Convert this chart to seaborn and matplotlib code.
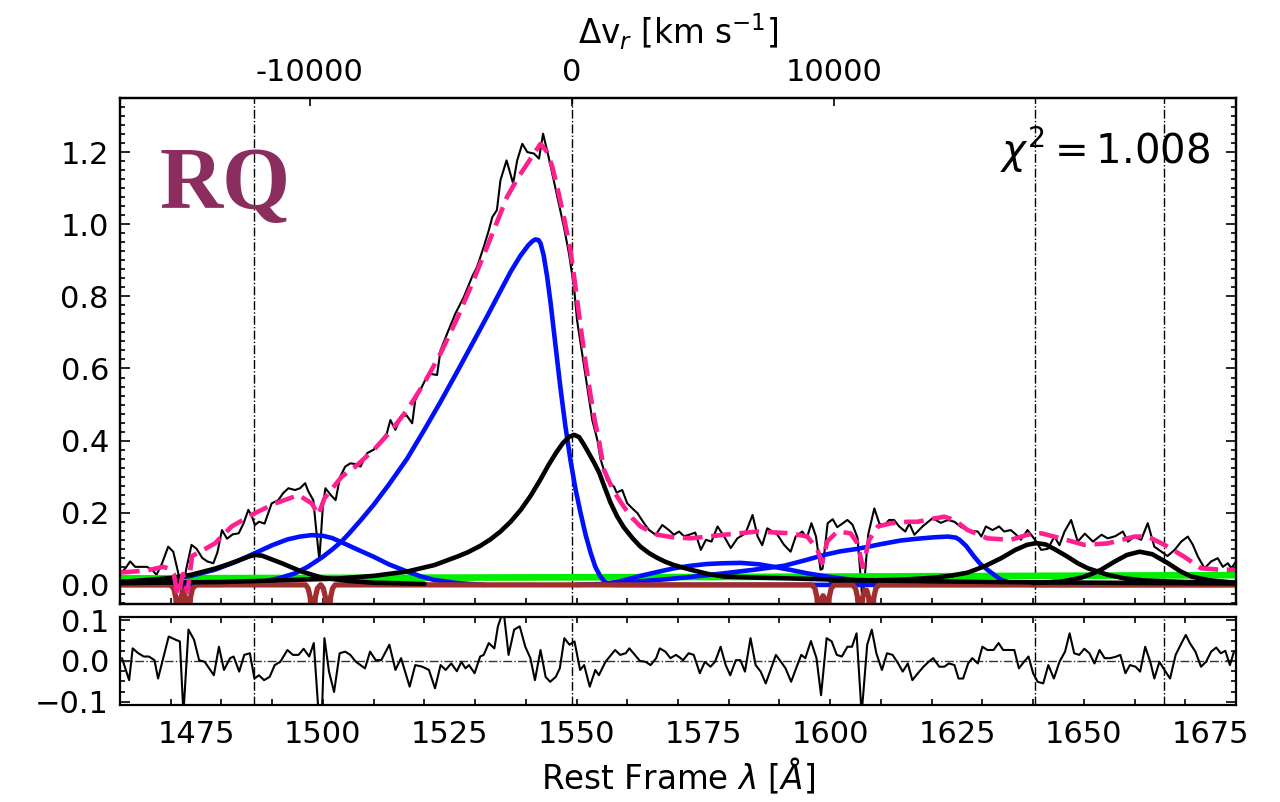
import numpy as np
import pandas as pd
import matplotlib
matplotlib.use("Agg")
import matplotlib.pyplot as plt
import seaborn as sns
from matplotlib.ticker import MultipleLocator, FixedLocator, FixedFormatter, FormatStrFormatter

sns.set_style("ticks")
plt.rcParams['font.family'] = ['DejaVu Sans']
plt.rcParams['mathtext.fontset'] = 'dejavusans'
plt.rcParams.update({'text.color': 'black', 'axes.labelcolor': 'black',
                     'xtick.color': 'black', 'ytick.color': 'black',
                     'axes.edgecolor': 'black'})

# ---------------- data ----------------
obs_wl = [1460.0, 1461.0, 1462.0, 1463.0, 1464.0, 1465.3, 1466.3, 1467.2, 1468.3, 1469.5,
          1470.5, 1471.5, 1472.2, 1473.0, 1474.1, 1475.1, 1476.2, 1477.2, 1478.4, 1479.2,
          1480.1, 1481.1, 1482.2, 1483.4, 1484.4, 1485.3, 1486.0, 1486.6, 1487.4, 1488.5,
          1489.9, 1491.2, 1492.2, 1493.2, 1494.5, 1495.5, 1496.5, 1497.1, 1498.1, 1498.7,
          1499.3, 1500.0, 1500.5, 1501.5, 1502.5, 1503.4, 1504.4, 1505.4, 1506.4, 1507.4,
          1508.7, 1510.0, 1511.3, 1512.6, 1513.3, 1514.3, 1515.3, 1516.5, 1517.6, 1518.2,
          1519.5, 1520.8, 1522.5, 1523.2, 1524.5, 1526.1, 1527.8, 1529.4, 1530.4, 1531.7,
          1532.7, 1533.4, 1534.3, 1535.0, 1536.2, 1537.5, 1538.3, 1539.3, 1540.3, 1541.6,
          1542.6, 1543.4, 1544.5, 1545.5, 1546.5, 1547.5, 1548.5, 1549.5, 1550.1, 1551.1,
          1552.1, 1553.1, 1554.1, 1554.7, 1556.0, 1557.4, 1557.9, 1559.0, 1560.0, 1561.0,
          1562.0, 1563.3, 1564.3, 1565.6, 1566.9, 1568.2, 1569.2, 1570.2, 1571.2, 1572.2,
          1573.4, 1574.5, 1575.5, 1576.6, 1577.8, 1579.1, 1580.4, 1581.7, 1583.3, 1584.7,
          1585.7, 1586.6, 1587.6, 1589.6, 1590.9, 1592.2, 1593.2, 1594.5, 1595.4, 1596.3,
          1597.2, 1598.1, 1598.5, 1599.5, 1600.5, 1601.4, 1602.4, 1603.4, 1604.4, 1605.4,
          1606.4, 1607.5, 1608.7, 1609.7, 1610.7, 1611.6, 1612.6, 1613.6, 1614.8, 1615.6,
          1616.6, 1618.2, 1620.2, 1621.8, 1623.2, 1624.5, 1625.8, 1627.6, 1629.1, 1629.8,
          1630.7, 1632.0, 1633.3, 1634.3, 1635.6, 1636.6, 1637.6, 1638.9, 1639.9, 1640.6,
          1641.6, 1642.9, 1644.2, 1645.2, 1646.2, 1647.5, 1648.8, 1650.2, 1651.8, 1653.5,
          1654.7, 1656.2, 1657.7, 1658.7, 1660.0, 1661.3, 1662.6, 1663.9, 1665.3, 1666.5,
          1667.9, 1669.2, 1670.5, 1671.5, 1672.5, 1673.8, 1675.1, 1676.4, 1677.4, 1678.4,
          1679.1, 1680.0]
obs_flux = [0.030, 0.045, 0.065, 0.050, 0.050, 0.050, 0.042, 0.028, 0.060, 0.106,
            0.092, 0.032, -0.040, 0.040, 0.111, 0.100, 0.075, 0.065, 0.060, 0.090,
            0.152, 0.128, 0.140, 0.143, 0.172, 0.208, 0.190, 0.166, 0.175, 0.170,
            0.226, 0.235, 0.255, 0.268, 0.263, 0.268, 0.282, 0.260, 0.235, 0.150,
            0.069, 0.220, 0.268, 0.250, 0.235, 0.300, 0.328, 0.337, 0.335, 0.328,
            0.365, 0.375, 0.397, 0.420, 0.457, 0.430, 0.466, 0.470, 0.448, 0.512,
            0.549, 0.586, 0.582, 0.651, 0.697, 0.752, 0.799, 0.854, 0.882, 0.937,
            0.983, 1.020, 1.039, 1.122, 1.177, 1.113, 1.177, 1.223, 1.200, 1.196,
            1.182, 1.251, 1.186, 1.122, 1.057, 0.993, 0.919, 0.826, 0.734, 0.642,
            0.549, 0.457, 0.402, 0.350, 0.291, 0.272, 0.256, 0.263, 0.226, 0.212,
            0.199, 0.171, 0.152, 0.139, 0.166, 0.152, 0.139, 0.148, 0.135, 0.139,
            0.145, 0.097, 0.125, 0.120, 0.162, 0.134, 0.102, 0.129, 0.143, 0.194,
            0.134, 0.110, 0.157, 0.139, 0.111, 0.092, 0.134, 0.148, 0.130, 0.171,
            0.134, 0.042, 0.045, 0.171, 0.182, 0.160, 0.170, 0.180, 0.167, 0.130,
            -0.050, 0.140, 0.212, 0.170, 0.165, 0.180, 0.180, 0.162, 0.148, 0.170,
            0.139, 0.162, 0.185, 0.172, 0.180, 0.175, 0.160, 0.150, 0.148, 0.134,
            0.162, 0.152, 0.162, 0.148, 0.152, 0.140, 0.125, 0.152, 0.134, 0.120,
            0.097, 0.100, 0.134, 0.110, 0.148, 0.180, 0.120, 0.142, 0.120, 0.139,
            0.129, 0.135, 0.148, 0.120, 0.134, 0.125, 0.171, 0.106, 0.092, 0.080,
            0.097, 0.120, 0.134, 0.111, 0.078, 0.046, 0.065, 0.074, 0.050, 0.060,
            0.046, 0.065]

model_wl = [1460.0, 1465.3, 1468.5, 1469.8, 1470.6, 1471.4, 1472.4, 1473.3, 1474.2, 1475.8,
            1478.7, 1482.0, 1486.6, 1490.6, 1495.2, 1497.8, 1499.1, 1500.3, 1501.1, 1503.7,
            1506.4, 1510.0, 1513.3, 1516.6, 1520.0, 1523.2, 1526.5, 1529.7, 1533.0, 1536.3,
            1538.5, 1540.3, 1541.8, 1542.9, 1544.2, 1545.2, 1546.2, 1547.5, 1548.8, 1549.8,
            1550.8, 1551.8, 1552.8, 1553.6, 1554.4, 1555.4, 1557.3, 1559.3, 1561.0, 1562.6,
            1565.9, 1569.0, 1572.5, 1579.1, 1585.7, 1592.2, 1595.5, 1597.5, 1598.4, 1599.4,
            1601.4, 1604.0, 1605.4, 1606.4, 1607.7, 1609.4, 1612.0, 1615.3, 1617.2, 1620.0,
            1622.5, 1624.5, 1627.1, 1631.0, 1635.6, 1638.9, 1641.6, 1645.5, 1650.1, 1654.7,
            1660.0, 1662.6, 1665.9, 1669.8, 1673.1, 1677.1, 1680.0]
model_flux = [0.034, 0.040, 0.050, 0.045, 0.030, -0.030, 0.030, -0.020, 0.080, 0.092,
              0.115, 0.162, 0.199, 0.226, 0.249, 0.226, 0.194, 0.240, 0.254, 0.300,
              0.328, 0.374, 0.425, 0.485, 0.560, 0.642, 0.740, 0.845, 0.960, 1.076,
              1.130, 1.168, 1.200, 1.223, 1.200, 1.160, 1.103, 1.020, 0.928, 0.825,
              0.716, 0.615, 0.522, 0.455, 0.402, 0.319, 0.260, 0.217, 0.185, 0.162,
              0.139, 0.132, 0.129, 0.139, 0.148, 0.143, 0.134, 0.097, 0.060, 0.120,
              0.148, 0.143, 0.115, 0.050, 0.125, 0.162, 0.171, 0.175, 0.175, 0.183,
              0.189, 0.180, 0.152, 0.129, 0.125, 0.139, 0.143, 0.129, 0.111, 0.115,
              0.134, 0.134, 0.111, 0.078, 0.046, 0.042, 0.042]

niv_wl = [1460.0, 1465.7, 1470.0, 1474.0, 1478.7, 1481.5, 1483.8, 1485.5, 1486.6, 1488.0,
          1489.5, 1491.9, 1495.8, 1499.8, 1505.0, 1510.0, 1520.0]
niv_flux = [0.008, 0.014, 0.019, 0.028, 0.045, 0.058, 0.070, 0.079, 0.083, 0.081,
            0.073, 0.060, 0.037, 0.020, 0.011, 0.006, 0.003]

civ_n_wl = [1460.0, 1480.0, 1490.0, 1503.4, 1510.0, 1516.6, 1522.0, 1526.4, 1528.5, 1531.0,
            1533.0, 1535.0, 1537.0, 1539.0, 1541.0, 1543.0, 1544.5, 1546.0, 1547.3, 1548.5,
            1549.5, 1550.5, 1551.5, 1552.5, 1553.5, 1554.5, 1555.5, 1556.7, 1558.0, 1559.3,
            1561.0, 1562.6, 1564.3, 1565.9, 1567.5, 1569.2, 1572.5, 1576.0, 1579.1, 1585.7,
            1592.0, 1600.0, 1610.0, 1620.0, 1640.0, 1680.0]
civ_n_flux = [0.005, 0.008, 0.012, 0.018, 0.025, 0.037, 0.055, 0.078, 0.090, 0.108,
              0.126, 0.148, 0.175, 0.208, 0.248, 0.295, 0.333, 0.367, 0.393, 0.410,
              0.416, 0.410, 0.388, 0.363, 0.338, 0.310, 0.272, 0.228, 0.190, 0.160,
              0.130, 0.106, 0.088, 0.075, 0.064, 0.055, 0.042, 0.030, 0.023, 0.020,
              0.018, 0.015, 0.012, 0.010, 0.007, 0.004]

heii_wl = [1600.0, 1610.0, 1615.0, 1620.5, 1624.0, 1627.1, 1630.5, 1633.7, 1636.5, 1638.8,
           1640.6, 1642.5, 1644.5, 1646.8, 1648.8, 1650.8, 1654.7, 1658.0, 1662.0, 1670.0,
           1680.0]
heii_flux = [0.012, 0.013, 0.015, 0.020, 0.026, 0.034, 0.052, 0.074, 0.097, 0.111,
             0.116, 0.112, 0.097, 0.078, 0.060, 0.046, 0.028, 0.018, 0.012, 0.008,
             0.006]

oiii_wl = [1640.0, 1646.0, 1649.5, 1651.5, 1653.4, 1656.0, 1658.5, 1661.0, 1663.5, 1666.6,
           1669.0, 1671.2, 1675.1, 1680.0]
oiii_flux = [0.005, 0.010, 0.020, 0.030, 0.042, 0.064, 0.083, 0.092, 0.085, 0.060,
             0.038, 0.023, 0.012, 0.006]

civ_b_wl = [1460.0, 1480.0, 1485.0, 1488.6, 1491.5, 1494.5, 1497.0, 1499.8, 1502.0, 1503.7,
            1505.0, 1507.5, 1510.0, 1513.0, 1516.6, 1520.0, 1523.2, 1526.5, 1529.7, 1532.5,
            1535.0, 1537.0, 1538.9, 1540.5, 1541.3, 1541.9, 1542.5, 1542.9, 1543.5, 1544.2,
            1544.9, 1545.8, 1546.8, 1547.8, 1548.8, 1549.8, 1550.8, 1551.8, 1552.8, 1553.7,
            1554.7, 1555.6, 1556.5, 1557.5, 1680.0]
civ_b_flux = [0.000, 0.000, 0.004, 0.010, 0.019, 0.032, 0.050, 0.076, 0.100, 0.121,
              0.140, 0.180, 0.222, 0.278, 0.350, 0.430, 0.508, 0.592, 0.675, 0.748,
              0.815, 0.868, 0.912, 0.942, 0.953, 0.958, 0.956, 0.947, 0.915, 0.855,
              0.780, 0.670, 0.549, 0.440, 0.346, 0.265, 0.199, 0.138, 0.088, 0.050,
              0.023, 0.008, 0.002, 0.000, 0.000]

siii_wl = [1460.0, 1465.0, 1468.9, 1474.0, 1478.7, 1483.0, 1486.6, 1490.0, 1493.0, 1495.5,
           1497.8, 1500.0, 1501.8, 1503.4, 1506.5, 1510.0, 1513.0, 1516.6, 1519.0, 1521.8,
           1526.4, 1532.0]
siii_flux = [0.008, 0.011, 0.015, 0.025, 0.042, 0.065, 0.088, 0.110, 0.126, 0.134,
             0.138, 0.136, 0.130, 0.120, 0.100, 0.078, 0.057, 0.037, 0.025, 0.014,
             0.005, 0.000]

b1580_wl = [1555.0, 1558.0, 1562.6, 1566.0, 1569.2, 1572.5, 1575.8, 1579.0, 1582.4, 1586.0,
            1588.9, 1592.0, 1595.5, 1599.0, 1602.1, 1605.5, 1608.7, 1615.0, 1620.0]
b1580_flux = [0.002, 0.008, 0.025, 0.036, 0.046, 0.053, 0.058, 0.060, 0.061, 0.057,
              0.050, 0.042, 0.032, 0.024, 0.018, 0.012, 0.009, 0.004, 0.002]

heii_b_wl = [1550.0, 1556.0, 1562.6, 1568.0, 1572.5, 1579.0, 1585.0, 1590.9, 1595.0, 1598.8,
             1602.0, 1605.4, 1610.0, 1613.9, 1617.2, 1620.5, 1623.2, 1624.8, 1625.5, 1626.8,
             1628.4, 1629.6, 1631.0, 1632.5, 1633.7, 1635.5, 1637.0, 1640.0, 1680.0]
heii_b_flux = [0.000, 0.003, 0.010, 0.016, 0.022, 0.032, 0.042, 0.053, 0.068, 0.083,
               0.093, 0.100, 0.113, 0.123, 0.128, 0.132, 0.134, 0.131, 0.125, 0.108,
               0.078, 0.058, 0.042, 0.026, 0.014, 0.006, 0.002, 0.000, 0.000]

cont_wl = [1460.0, 1520.0, 1580.0, 1640.0, 1680.0]
cont_flux = [0.018, 0.020, 0.022, 0.025, 0.027]

abs_wl = [1460.0, 1469.9, 1470.6, 1471.0, 1471.5, 1472.0, 1472.45, 1472.9, 1473.4, 1473.9,
          1474.3, 1475.0, 1496.6, 1497.1, 1497.5, 1498.0, 1498.5, 1498.9, 1499.5, 1499.6,
          1500.1, 1500.5, 1501.0, 1501.5, 1501.9, 1502.4, 1596.4, 1597.0, 1597.4, 1597.9,
          1598.4, 1598.6, 1598.8, 1599.3, 1599.8, 1600.2, 1600.8, 1604.4, 1605.0, 1605.4,
          1605.9, 1606.4, 1606.8, 1607.2, 1607.6, 1608.1, 1608.6, 1609.0, 1609.6, 1680.0]
abs_flux = [0.0, 0.0, -0.01, -0.035, -0.15, -0.035, -0.015, -0.035, -0.15, -0.035,
            -0.01, 0.0, 0.0, -0.01, -0.035, -0.15, -0.035, -0.01, 0.0, 0.0,
            -0.01, -0.035, -0.15, -0.035, -0.01, 0.0, 0.0, -0.01, -0.035, -0.15,
            -0.035, -0.03, -0.035, -0.15, -0.035, -0.01, 0.0, 0.0, -0.01, -0.035,
            -0.15, -0.035, -0.015, -0.015, -0.035, -0.15, -0.035, -0.01, 0.0, 0.0]

res_wl = [1460.4, 1461.8, 1462.5, 1463.6, 1464.7, 1465.7, 1466.8, 1467.5, 1469.6, 1471.0,
          1471.8, 1472.5, 1473.5, 1474.6, 1475.6, 1476.7, 1478.5, 1479.5, 1480.5, 1481.7,
          1482.4, 1483.5, 1484.5, 1485.6, 1486.5, 1487.4, 1488.4, 1489.5, 1490.5, 1491.6,
          1493.0, 1494.1, 1495.2, 1496.2, 1497.3, 1498.2, 1499.1, 1499.8, 1500.3, 1501.2,
          1502.2, 1503.3, 1504.4, 1505.4, 1506.5, 1508.3, 1509.3, 1510.4, 1511.5, 1513.1,
          1514.3, 1515.4, 1517.1, 1518.2, 1519.6, 1520.9, 1522.1, 1523.2, 1524.2, 1525.3,
          1526.4, 1527.3, 1528.1, 1528.8, 1529.9, 1531.0, 1531.7, 1532.7, 1533.8, 1534.5,
          1535.6, 1536.6, 1537.7, 1538.8, 1539.9, 1540.9, 1541.8, 1542.9, 1543.9, 1544.8,
          1545.9, 1546.7, 1547.6, 1548.6, 1549.6, 1550.7, 1551.5, 1552.6, 1553.7, 1554.4,
          1555.7, 1557.6, 1558.6, 1559.7, 1560.4, 1561.5, 1562.5, 1563.6, 1564.6, 1565.7,
          1566.4, 1567.5, 1568.5, 1569.6, 1570.3, 1571.0, 1572.1, 1573.1, 1574.3, 1575.3,
          1576.4, 1577.3, 1578.4, 1579.4, 1580.3, 1581.4, 1582.3, 1583.2, 1584.3, 1585.3,
          1586.3, 1587.3, 1589.3, 1590.3, 1591.2, 1592.3, 1593.4, 1594.3, 1595.1, 1596.2,
          1597.3, 1598.2, 1599.3, 1600.3, 1601.3, 1602.3, 1603.4, 1604.3, 1605.2, 1606.2,
          1607.3, 1608.2, 1609.1, 1610.2, 1611.2, 1612.3, 1613.4, 1614.3, 1615.3, 1616.2,
          1617.3, 1618.4, 1619.4, 1620.3, 1621.5, 1622.5, 1623.4, 1624.5, 1625.3, 1626.2,
          1627.2, 1628.0, 1629.1, 1630.0, 1631.0, 1632.2, 1633.2, 1634.1, 1635.2, 1636.3,
          1637.2, 1638.2, 1639.1, 1640.0, 1640.9, 1642.0, 1643.0, 1644.1, 1645.2, 1646.3,
          1647.2, 1648.1, 1649.1, 1650.1, 1651.1, 1652.1, 1653.1, 1654.1, 1655.2, 1656.2,
          1657.2, 1658.2, 1659.1, 1660.2, 1661.1, 1662.1, 1663.1, 1663.9, 1664.9, 1665.9,
          1667.0, 1668.1, 1669.1, 1670.1, 1670.9, 1672.0, 1673.1, 1674.1, 1675.1, 1676.1,
          1677.0, 1677.9, 1678.8, 1679.6]
res_val = [0.007, -0.047, 0.031, 0.019, 0.011, 0.011, 0.002, -0.043, 0.060, 0.052,
           0.048, -0.130, 0.077, 0.052, 0.002, -0.002, -0.035, 0.035, -0.022, 0.007,
           0.011, -0.026, 0.015, 0.019, -0.043, -0.035, -0.047, -0.039, -0.010, -0.002,
           0.027, 0.015, 0.015, 0.030, 0.011, 0.044, -0.120, -0.130, 0.056, -0.026,
           -0.076, 0.019, 0.023, 0.015, -0.002, -0.018, 0.023, 0.002, 0.002, 0.040,
           -0.022, 0.007, -0.063, -0.010, -0.014, -0.022, -0.067, -0.010, -0.022, -0.006,
           -0.025, -0.002, -0.018, -0.010, -0.030, 0.011, 0.015, 0.044, 0.031, 0.085,
           0.125, 0.015, 0.077, 0.085, 0.035, 0.007, -0.047, 0.027, -0.039, -0.051,
           -0.039, -0.018, 0.056, 0.040, 0.048, -0.022, -0.010, -0.063, -0.022, -0.035,
           -0.002, 0.027, 0.015, 0.019, 0.031, 0.015, 0.000, -0.002, -0.010, 0.007,
           0.031, 0.023, 0.007, 0.015, 0.009, 0.002, 0.019, 0.015, -0.030, -0.002,
           -0.014, -0.002, 0.035, -0.010, -0.035, 0.002, 0.002, -0.026, 0.056, -0.010,
           -0.026, -0.055, 0.015, -0.002, -0.018, -0.051, -0.014, 0.015, 0.007, 0.049,
           0.007, -0.084, 0.056, 0.048, 0.015, 0.011, 0.035, 0.035, 0.068, -0.130,
           0.040, 0.077, 0.019, -0.022, 0.019, 0.015, -0.006, -0.026, -0.006, -0.047,
           -0.030, -0.014, -0.002, 0.007, -0.014, -0.014, -0.006, -0.010, -0.043, -0.043,
           -0.006, 0.007, -0.006, 0.035, 0.027, 0.027, 0.044, 0.027, 0.027, 0.027,
           -0.018, -0.002, 0.011, -0.030, -0.051, -0.055, -0.010, -0.043, -0.002, 0.023,
           0.068, 0.019, 0.015, 0.030, 0.019, -0.006, 0.027, 0.007, 0.007, 0.010,
           0.015, -0.030, -0.010, -0.014, -0.026, 0.035, -0.002, -0.043, -0.002, -0.022,
           -0.043, 0.015, 0.040, 0.064, 0.044, 0.023, -0.014, -0.002, 0.023, 0.033,
           0.019, 0.025, -0.010, 0.023]

line_centers = [1486.5, 1549.06, 1640.4, 1665.8]
vel_ticks = [-10000, 0, 10000]
vel_labels = ['-10000', '0', '10000']
lam_ticks = [1475, 1500, 1525, 1550, 1575, 1600, 1625, 1650, 1675]
res_ticks = [-0.1, 0.0, 0.1]
res_labels = ['\u22120.1', '0.0', '0.1']
chi2_text = r'$\chi^2 = 1.008$'
tag_text = 'RQ'

# ---------------- figure ----------------
W, H = 1280, 802
fig = plt.figure(figsize=(W / 100, H / 100), dpi=100)
L, R = 120 / W, 1236 / W
ax = fig.add_axes([L, 1 - 604 / H, R - L, (604 - 98) / H])
axr = fig.add_axes([L, 1 - 705 / H, R - L, (705 - 617) / H], sharex=ax)

lam_min, lam_max = 1460, 1680
c_kms = 299792.458
lam0 = line_centers[1]
TICK_FS = 22
LAB_FS = 23.5


def draw(a, x, y, **kw):
    sns.lineplot(x=x, y=y, ax=a, estimator=None, sort=False, legend=False, **kw)


for lc in line_centers:
    ax.axvline(lc, color='black', lw=1.0, ls='-.', zorder=1)
    axr.axvline(lc, color='black', lw=1.0, ls='-.', zorder=1)

draw(ax, obs_wl, obs_flux, color='black', lw=1.5, zorder=3)
draw(ax, cont_wl, cont_flux, color='#00ee00', lw=4.8, zorder=4)
for xw, yf in [(civ_b_wl, civ_b_flux), (siii_wl, siii_flux), (b1580_wl, b1580_flux),
               (heii_b_wl, heii_b_flux)]:
    draw(ax, xw, yf, color='#0010ff', lw=3.3, zorder=5)
draw(ax, abs_wl, abs_flux, color='#a02e2e', lw=3.8, zorder=5.2)
for xw, yf in [(niv_wl, niv_flux), (civ_n_wl, civ_n_flux), (heii_wl, heii_flux),
               (oiii_wl, oiii_flux)]:
    draw(ax, xw, yf, color='black', lw=3.3, zorder=5.5)
draw(ax, model_wl, model_flux, color='#ff1f8e', lw=3.3, linestyle=(0, (4.3, 1.9)), zorder=6)

ax.set_xlim(lam_min, lam_max)
ax.set_ylim(-0.053, 1.35)
ax.yaxis.set_major_locator(MultipleLocator(0.2))
ax.yaxis.set_minor_locator(MultipleLocator(0.025))
ax.yaxis.set_major_formatter(FormatStrFormatter('%.1f'))
ax.xaxis.set_major_locator(FixedLocator(lam_ticks))
ax.xaxis.set_minor_locator(MultipleLocator(10))
ax.xaxis.remove_overlapping_locs = False
axr.xaxis.remove_overlapping_locs = False

for a in (ax, axr):
    for s in a.spines.values():
        s.set_linewidth(1.6)
    a.tick_params(which='both', direction='in', top=True, right=True, width=1.2)
    a.tick_params(axis='x', which='major', length=0, labelsize=TICK_FS, pad=11)
    a.tick_params(axis='x', which='minor', length=4.5)
    a.tick_params(axis='y', which='major', length=7, labelsize=TICK_FS, pad=8)
    a.tick_params(axis='y', which='minor', length=3.5)
ax.tick_params(axis='x', labelbottom=False)

ax.text(0.977, 0.897, chi2_text, transform=ax.transAxes, ha='right', va='center',
        fontsize=29, zorder=10)
fig.text(160 / W, 1 - 208 / H, tag_text, family='Liberation Serif', fontweight='bold',
         fontsize=63, color='#8b2d5e', ha='left', va='baseline')

# velocity axis on top
axt = ax.twiny()
axt.set_xlim((lam_min / lam0 - 1) * c_kms, (lam_max / lam0 - 1) * c_kms)
axt.xaxis.set_major_locator(FixedLocator(vel_ticks))
axt.xaxis.set_major_formatter(FixedFormatter(vel_labels))
axt.tick_params(axis='x', direction='in', length=6, width=1.2, labelsize=TICK_FS, pad=8)
axt.set_xlabel(r'$\Delta$v$_r$ [km s$^{-1}$]', fontsize=LAB_FS, labelpad=10)
for s in axt.spines.values():
    s.set_linewidth(1.6)

# residuals
draw(axr, res_wl, res_val, color='black', lw=1.5, zorder=3)
axr.axhline(0.0, color='#333333', lw=1.0, ls='-.', zorder=1)
axr.set_ylim(-0.108, 0.108)
axr.yaxis.set_major_locator(FixedLocator(res_ticks))
axr.yaxis.set_major_formatter(FixedFormatter(res_labels))
axr.yaxis.set_minor_locator(MultipleLocator(0.025))
axr.set_xlim(lam_min, lam_max)
axr.set_xlabel(r'Rest Frame $\lambda$ [$Å$]', fontsize=LAB_FS, labelpad=5)
axr.set_ylabel('')
ax.set_ylabel('')
ax.set_xlabel('')

fig.savefig('out.png', dpi=100)
